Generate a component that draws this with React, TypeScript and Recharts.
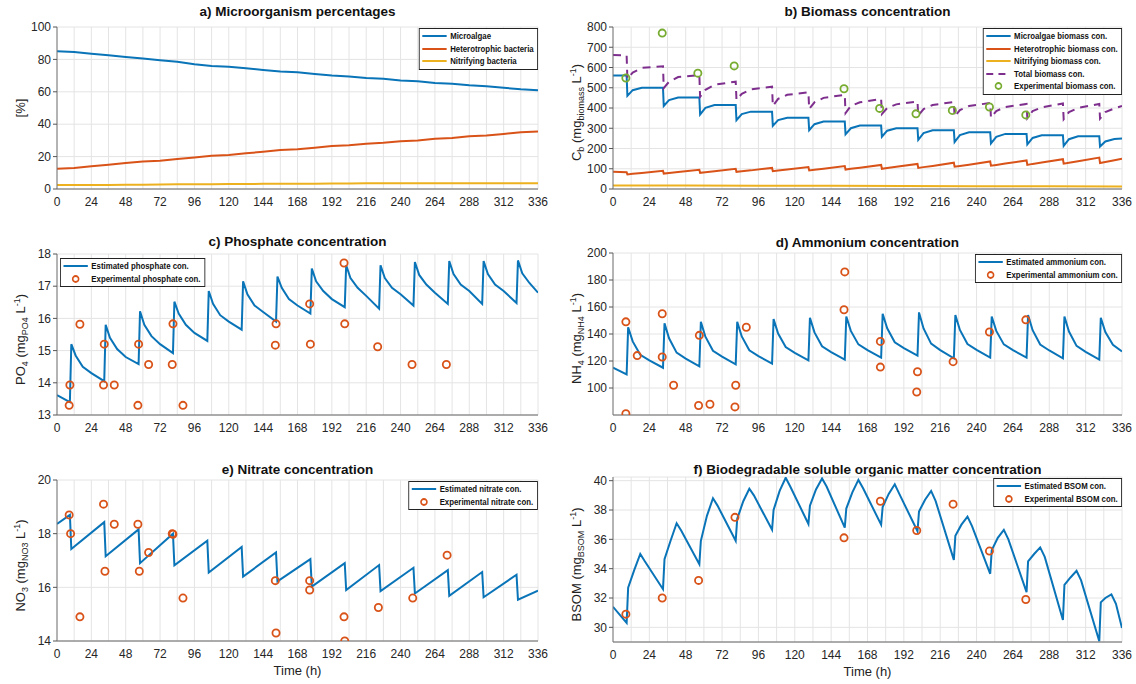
import React from "react";
import { ComposedChart, Line, Scatter, XAxis, YAxis, CartesianGrid } from "recharts";

const FONT = "'Liberation Sans', Arial, sans-serif";
const BLUE = "#0a74b8";
const ORANGE = "#D95319";
const YELLOW = "#EDB120";
const PURPLE = "#7E2F8E";
const GREEN = "#77AC30";

const hourTicks = [0, 24, 48, 72, 96, 120, 144, 168, 192, 216, 240, 264, 288, 312, 336];
const gridHours = [0, 12, 24, 36, 48, 60, 72, 84, 96, 108, 120, 132, 144, 156, 168, 180, 192, 204, 216, 228, 240, 252, 264, 276, 288, 300, 312, 324, 336];

// a) Microorganism percentages
const pctTime = [0, 12, 24, 36, 48, 60, 72, 84, 96, 108, 120, 132, 144, 156, 168, 180, 192, 204, 216, 228, 240, 252, 264, 276, 288, 300, 312, 324, 336];
const pctMicroalgae = [85, 84.5, 83.5, 82.5, 81.5, 80.5, 79.5, 78.5, 77, 76, 75.5, 74.5, 73.5, 72.5, 72, 71, 70, 69.5, 68.5, 68, 67, 66.5, 65.5, 65, 64, 63.5, 62.5, 61.5, 61];
const pctHeterotrophic = [12.5, 13, 14, 15, 16, 17, 17.5, 18.5, 19.5, 20.5, 21, 22, 23, 24, 24.5, 25.5, 26.5, 27, 28, 28.5, 29.5, 30, 31, 31.5, 32.5, 33, 34, 35, 35.5];
const pctNitrifying = [2.5, 2.5, 2.5, 2.5, 2.6, 2.7, 2.8, 2.9, 3, 3, 3.1, 3.1, 3.2, 3.2, 3.3, 3.3, 3.4, 3.4, 3.5, 3.5, 3.5, 3.5, 3.5, 3.5, 3.5, 3.5, 3.5, 3.5, 3.5];

// b) Biomass concentration
const bioTime = [0, 9, 9.5, 13, 19, 33, 33.5, 37, 43, 57, 57.5, 61, 67, 81, 81.5, 85, 91, 105, 105.5, 109, 115, 129, 129.5, 133, 139, 153, 153.5, 157, 163, 177, 177.5, 181, 187, 201, 201.5, 205, 211, 225, 225.5, 229, 235, 249, 249.5, 253, 259, 273, 273.5, 277, 283, 297, 297.5, 301, 307, 321, 321.5, 325, 331, 336];
const bioMicroalgae = [560, 560, 460, 488, 500, 500, 410, 439, 452, 452, 368, 401, 415, 415, 340, 370, 382, 382, 312, 340, 352, 352, 290, 320, 333, 333, 270, 300, 313, 313, 258, 288, 300, 300, 243, 276, 290, 290, 232, 266, 280, 280, 225, 258, 272, 272, 220, 252, 265, 265, 213, 246, 260, 260, 210, 235, 247, 249];
const bioHeterotrophic = [85, 83, 72, 75, 79, 90, 76, 79, 84, 95, 80, 83, 88, 100, 85, 88, 92, 104, 88, 91, 96, 108, 92, 95, 100, 113, 96, 100, 105, 119, 100, 104, 110, 124, 104, 108, 114, 130, 110, 114, 120, 136, 115, 119, 126, 141, 119, 124, 131, 147, 125, 130, 137, 155, 128, 133, 142, 150];
const bioTotal = [662, 660, 545, 575, 598, 606, 498, 530, 553, 562, 455, 490, 515, 530, 440, 470, 492, 505, 410, 445, 465, 478, 395, 428, 450, 465, 375, 410, 428, 445, 370, 400, 418, 432, 362, 395, 415, 430, 357, 390, 410, 425, 352, 385, 405, 420, 350, 385, 403, 422, 345, 380, 400, 420, 348, 380, 398, 410];
const nitTime = [0, 48, 96, 144, 192, 240, 288, 336];
const bioNitrifying = [17, 17, 16, 16, 15, 14, 13, 12];
const bioExpTime = [8.5, 32.5, 56, 80, 152.5, 176, 200, 224, 248.5, 272.5];
const bioExp = [548, 770, 572, 608, 495, 398, 371, 388, 405, 366];

// c), d) share the feeding-cycle sampling
const cycleTime = [0, 9, 10, 13, 18, 24, 33, 34, 37, 42, 48, 57, 58, 61, 66, 72, 81, 82, 85, 90, 96, 105, 106, 109, 114, 120, 129, 130, 133, 138, 144, 153, 154, 157, 162, 168, 177, 178, 181, 186, 192, 201, 202, 205, 210, 216, 225, 226, 229, 234, 240, 249, 250, 253, 258, 264, 273, 274, 277, 282, 288, 297, 298, 301, 306, 312, 321, 322, 325, 330, 336];
const po4Est = [13.62, 13.4, 15.2, 14.85, 14.5, 14.3, 14.05, 15.8, 15.4, 15.05, 14.8, 14.58, 16.22, 15.8, 15.45, 15.2, 14.92, 16.52, 16.15, 15.8, 15.55, 15.3, 16.85, 16.45, 16.1, 15.9, 15.65, 17.15, 16.75, 16.4, 16.2, 15.9, 17.3, 16.95, 16.6, 16.4, 16.15, 17.55, 17.15, 16.85, 16.6, 16.35, 17.65, 17.25, 16.95, 16.7, 16.3, 17.65, 17.25, 16.95, 16.75, 16.4, 17.75, 17.35, 17.05, 16.8, 16.45, 17.78, 17.38, 17.05, 16.85, 16.45, 17.78, 17.38, 17.05, 16.85, 16.48, 17.8, 17.4, 17.1, 16.8];
const po4ExpTime = [8.5, 9, 16, 32.5, 33, 40, 56.5, 57, 64, 80.5, 81, 88, 152.5, 153, 176.5, 177, 200.5, 201, 224, 248, 272];
const po4Exp = [13.3, 13.93, 15.82, 13.93, 15.2, 13.93, 13.3, 15.2, 14.57, 14.57, 15.83, 13.3, 15.17, 15.83, 16.45, 15.2, 17.72, 15.83, 15.12, 14.57, 14.57];

const nh4Est = [115, 110, 145, 134.5, 124.6, 120.4, 115, 148, 136.8, 126.2, 121.8, 116, 149, 138, 127.6, 123.2, 117.5, 149, 138.2, 127.9, 123.6, 118, 151, 140.3, 130.3, 126, 120.5, 152, 141.2, 130.9, 126.6, 121, 153, 142.3, 132.3, 128, 122.5, 155, 144.2, 133.9, 129.6, 124, 156, 144.1, 132.9, 128.1, 122, 154, 143, 132.6, 128.2, 122.5, 153, 142.3, 132.3, 128, 122.5, 154, 142.8, 132.2, 127.8, 122, 153, 141.8, 131.2, 126.8, 121, 152, 141.5, 132, 127];
const nh4ExpTime = [8.5, 8.5, 16, 32.5, 32.5, 40, 56.5, 57, 64, 80.5, 81, 88, 152.5, 153, 176.5, 176.5, 200.5, 201, 224.5, 248.5, 272.5];
const nh4Exp = [149, 81, 124, 155, 123, 102, 87, 139, 88, 86, 102, 145, 158, 186, 134.5, 115.5, 97, 112, 119.5, 141.5, 150.5];

// e) Nitrate
const no3Time = [0, 9, 10, 33, 34, 57, 58, 81, 82, 105, 106, 129, 130, 153, 154, 177, 178, 201, 202, 225, 226, 249, 250, 273, 274, 297, 298, 321, 322, 336];
const no3Est = [18.36, 18.7, 17.43, 18.43, 17.16, 18.16, 16.9, 18.0, 16.82, 17.74, 16.55, 17.5, 16.4, 17.3, 16.22, 17.05, 16.03, 16.9, 15.9, 16.83, 15.86, 16.73, 15.77, 16.64, 15.68, 16.57, 15.63, 16.47, 15.54, 15.88];
const no3ExpTime = [8.5, 9.5, 16, 32.5, 33.5, 40, 56.5, 57.5, 64, 80.5, 81, 88, 152.5, 153, 176.5, 176.5, 200.5, 201, 224.5, 248.5, 272.5];
const no3Exp = [18.7, 18.0, 14.9, 19.1, 16.6, 18.35, 18.35, 16.6, 17.3, 18.0, 17.98, 15.6, 16.25, 14.3, 16.25, 15.9, 14.9, 14.0, 15.25, 15.6, 17.2];

// f) BSOM
const bsomTime = [0, 9, 10, 14, 18, 21, 33, 34, 38, 42, 45, 57, 58, 62, 66, 69, 81, 82, 86, 90, 93, 105, 106, 110, 114, 117, 129, 130, 134, 138, 141, 153, 154, 158, 162, 165, 177, 178, 182, 186, 189, 201, 202, 206, 210, 213, 225, 226, 230, 234, 237, 249, 250, 254, 258, 261, 273, 274, 278, 282, 285, 297, 298, 302, 306, 309, 321, 322, 325, 329, 332, 336];
const bsomEst = [31.4, 30.3, 32.7, 33.9, 35.0, 34.5, 32.6, 34.65, 35.9, 37.1, 36.6, 34.3, 35.9, 37.6, 38.8, 38.3, 35.9, 37.4, 38.6, 39.45, 39.0, 36.65, 38.0, 39.3, 40.2, 39.6, 37.05, 38.3, 39.4, 40.15, 39.6, 36.8, 38.1, 39.2, 40.05, 39.5, 37.0, 38.2, 39.1, 39.75, 39.1, 36.55, 37.9, 38.7, 39.3, 38.6, 34.6, 36.25, 37.0, 37.55, 36.9, 33.65, 35.25, 36.1, 36.65, 36.0, 32.4, 34.5, 35.0, 35.45, 34.8, 30.5, 32.9, 33.4, 33.85, 33.2, 29.05, 31.7, 32.0, 32.25, 31.6, 29.95];
const bsomExpTime = [8.5, 32.5, 56.5, 80.5, 152.5, 176.5, 200.5, 224.5, 248.5, 272.5];
const bsomExp = [30.9, 32.0, 33.2, 37.5, 36.1, 38.6, 36.6, 38.4, 35.2, 31.9];

const rows = (t: number[], v: number[]) => t.map((x, i) => ({ t: x, v: v[i] }));

type Item = { label: string; color: string; kind: "line" | "dash" | "circle" };

const LEG_SCALE = 0.87;

function LegendBox({ x, y, items, align }: { x: number; y: number; items: Item[]; align: "left" | "right" }) {
  const pos: React.CSSProperties = align === "right" ? { right: 1136 - x } : { left: x };
  return (
    <div style={{ position: "absolute", top: y, ...pos, transform: `scaleX(${LEG_SCALE})`, transformOrigin: align === "right" ? "right top" : "left top", background: "#fff", border: "1px solid #222", padding: "1px 4px 1px 2px", font: `bold 9px ${FONT}`, color: "#111" }}>
      {items.map((it) => (
        <div key={it.label} style={{ display: "flex", alignItems: "center", height: 12.5, whiteSpace: "nowrap" }}>
          <svg width={30} height={10} style={{ marginRight: 3 }}>
            {it.kind === "line" && <line x1={1} x2={29} y1={5} y2={5} stroke={it.color} strokeWidth={2} />}
            {it.kind === "dash" && <line x1={1} x2={29} y1={5} y2={5} stroke={it.color} strokeWidth={2} strokeDasharray="8 6" />}
            {it.kind === "circle" && <ellipse cx={15} cy={5} rx={3 / LEG_SCALE} ry={3} fill="none" stroke={it.color} strokeWidth={1.8} />}
          </svg>
          {it.label}
        </div>
      ))}
    </div>
  );
}

const ring = (color: string) => (p: any) => <circle cx={p.cx} cy={p.cy} r={3.6} fill="none" stroke={color} strokeWidth={1.8} />;

type PanelProps = {
  box: [number, number, number, number];
  title: string;
  titleGap?: number;
  labelGap?: number;
  yDomain: [number, number];
  yTicks: number[];
  yLabel: React.ReactNode;
  xLabel?: boolean;
  children: React.ReactNode;
};

function Panel({ box, title, titleGap = 20, labelGap = 36, yDomain, yTicks, yLabel, xLabel, children }: PanelProps) {
  const [x0, x1, y0, y1] = box;
  const yw = 34;
  const xh = 20;
  const mt = 8;
  const mr = 14;
  const tickStyle = { fontSize: 12, fill: "#262626", fontFamily: FONT };
  return (
    <>
      <div style={{ position: "absolute", left: x0, width: x1 - x0, top: y0 - titleGap, textAlign: "center", font: `bold 13.5px ${FONT}`, lineHeight: "16px", color: "#111", whiteSpace: "nowrap" }}>{title}</div>
      <div style={{ position: "absolute", left: x0 - yw, top: y0 - mt }}>
        <ComposedChart width={x1 - x0 + yw + mr} height={y1 - y0 + mt + xh} margin={{ top: mt, right: mr, left: 0, bottom: 0 }}>
          <CartesianGrid xAxisId="top" yAxisId="left" stroke="#e4e4e4" strokeWidth={1} />
          <XAxis xAxisId="bottom" type="number" dataKey="t" domain={[0, 336]} ticks={hourTicks} height={xh} tick={tickStyle} tickLine={false} axisLine={{ stroke: "#666" }} interval={0} allowDataOverflow />
          <XAxis xAxisId="top" orientation="top" type="number" dataKey="t" domain={[0, 336]} ticks={gridHours} height={0} mirror tickSize={4} tickFormatter={() => ""} axisLine={{ stroke: "#222" }} tickLine={{ stroke: "#333" }} interval={0} allowDataOverflow />
          <YAxis yAxisId="left" type="number" domain={yDomain} ticks={yTicks} width={yw} tick={tickStyle} tickSize={4} tickLine={{ stroke: "#555" }} axisLine={{ stroke: "#777" }} interval={0} allowDataOverflow />
          <YAxis yAxisId="right" orientation="right" type="number" domain={yDomain} ticks={yTicks} width={0} mirror tickSize={4} tickFormatter={() => ""} axisLine={{ stroke: "#999" }} tickLine={{ stroke: "#555" }} interval={0} allowDataOverflow />
          {children}
        </ComposedChart>
      </div>
      <div style={{ position: "absolute", left: x0 - labelGap - 100, top: (y0 + y1) / 2 - 9, width: 200, textAlign: "center", transform: "rotate(-90deg)", font: `13px ${FONT}`, lineHeight: "18px", color: "#222", whiteSpace: "nowrap" }}>{yLabel}</div>
      {xLabel && <div style={{ position: "absolute", left: x0, width: x1 - x0, top: y1 + 22, textAlign: "center", font: `13px ${FONT}`, color: "#222" }}>Time (h)</div>}
    </>
  );
}

const est = (data: any[], color: string, extra: any = {}) => (
  <Line xAxisId="bottom" yAxisId="left" data={data} dataKey="v" type="linear" dot={false} stroke={color} strokeWidth={2} isAnimationActive={false} {...extra} />
);
const exp = (data: any[], color: string) => (
  <Scatter xAxisId="bottom" yAxisId="left" data={data} dataKey="v" shape={ring(color)} isAnimationActive={false} />
);

const LEFT: [number, number] = [57, 538];
const RIGHT: [number, number] = [613, 1122];

export default function App() {
  const sub = (s: string) => <sub style={{ fontSize: 9 }}>{s}</sub>;
  const sup = (s: string) => <sup style={{ fontSize: 9 }}>{s}</sup>;
  return (
    <div style={{ position: "absolute", left: 0, top: 0, width: 1136, height: 684, background: "#fff", overflow: "hidden" }}>
      <Panel box={[LEFT[0], LEFT[1], 27, 189]} title="a) Microorganism percentages" titleGap={23} yDomain={[0, 100]} yTicks={[0, 20, 40, 60, 80, 100]} yLabel="[%]">
        {est(rows(pctTime, pctMicroalgae), BLUE)}
        {est(rows(pctTime, pctHeterotrophic), ORANGE)}
        {est(rows(pctTime, pctNitrifying), YELLOW)}
      </Panel>
      <LegendBox x={LEFT[1]} y={28} align="right" items={[
        { label: "Microalgae", color: BLUE, kind: "line" },
        { label: "Heterotrophic bacteria", color: ORANGE, kind: "line" },
        { label: "Nitrifying bacteria", color: YELLOW, kind: "line" },
      ]} />

      <Panel box={[RIGHT[0], RIGHT[1], 27, 189]} title="b) Biomass concentration" titleGap={23} labelGap={36} yDomain={[0, 800]} yTicks={[0, 100, 200, 300, 400, 500, 600, 700, 800]} yLabel={<>C{sub("b")} (mg{sub("biomass")} L{sup("-1")})</>}>
        {est(rows(bioTime, bioMicroalgae), BLUE)}
        {est(rows(bioTime, bioHeterotrophic), ORANGE)}
        {est(rows(nitTime, bioNitrifying), YELLOW)}
        {est(rows(bioTime, bioTotal), PURPLE, { strokeDasharray: "8 6" })}
        {exp(rows(bioExpTime, bioExp), GREEN)}
      </Panel>
      <LegendBox x={RIGHT[1]} y={28} align="right" items={[
        { label: "Microalgae biomass con.", color: BLUE, kind: "line" },
        { label: "Heterotrophic biomass con.", color: ORANGE, kind: "line" },
        { label: "Nitrifying biomass con.", color: YELLOW, kind: "line" },
        { label: "Total biomass con.", color: PURPLE, kind: "dash" },
        { label: "Experimental biomass con.", color: GREEN, kind: "circle" },
      ]} />

      <Panel box={[LEFT[0], LEFT[1], 254, 415]} title="c) Phosphate concentration" yDomain={[13, 18]} yTicks={[13, 14, 15, 16, 17, 18]} yLabel={<>PO{sub("4")} (mg{sub("PO4")} L{sup("-1")})</>}>
        {est(rows(cycleTime, po4Est), BLUE)}
        {exp(rows(po4ExpTime, po4Exp), ORANGE)}
      </Panel>
      <LegendBox x={LEFT[0] + 3} y={258} align="left" items={[
        { label: "Estimated phosphate con.", color: BLUE, kind: "line" },
        { label: "Experimental phosphate con.", color: ORANGE, kind: "circle" },
      ]} />

      <Panel box={[RIGHT[0], RIGHT[1], 253, 415]} title="d) Ammonium concentration" titleGap={18} labelGap={36} yDomain={[80, 200]} yTicks={[100, 120, 140, 160, 180, 200]} yLabel={<>NH{sub("4")} (mg{sub("NH4")} L{sup("-1")})</>}>
        {est(rows(cycleTime, nh4Est), BLUE)}
        {exp(rows(nh4ExpTime, nh4Exp), ORANGE)}
      </Panel>
      <LegendBox x={RIGHT[1]} y={254} align="right" items={[
        { label: "Estimated ammonium con.", color: BLUE, kind: "line" },
        { label: "Experimental ammonium con.", color: ORANGE, kind: "circle" },
      ]} />

      <Panel box={[LEFT[0], LEFT[1], 480, 641]} title="e) Nitrate concentration" titleGap={18} xLabel yLabel={<>NO{sub("3")} (mg{sub("NO3")} L{sup("-1")})</>} yDomain={[14, 20]} yTicks={[14, 16, 18, 20]}>
        {est(rows(no3Time, no3Est), BLUE)}
        {exp(rows(no3ExpTime, no3Exp), ORANGE)}
      </Panel>
      <LegendBox x={LEFT[1]} y={481} align="right" items={[
        { label: "Estimated nitrate con.", color: BLUE, kind: "line" },
        { label: "Experimental nitrate con.", color: ORANGE, kind: "circle" },
      ]} />

      <Panel box={[RIGHT[0], RIGHT[1], 477, 642]} title="f) Biodegradable soluble organic matter concentration" titleGap={15} labelGap={36} yDomain={[29, 40.25]} yTicks={[30, 32, 34, 36, 38, 40]} xLabel yLabel={<>BSOM (mg{sub("BSOM")} L{sup("-1")})</>}>
        {est(rows(bsomTime, bsomEst), BLUE)}
        {exp(rows(bsomExpTime, bsomExp), ORANGE)}
      </Panel>
      <LegendBox x={RIGHT[1]} y={478} align="right" items={[
        { label: "Estimated BSOM con.", color: BLUE, kind: "line" },
        { label: "Experimental BSOM con.", color: ORANGE, kind: "circle" },
      ]} />
    </div>
  );
}
